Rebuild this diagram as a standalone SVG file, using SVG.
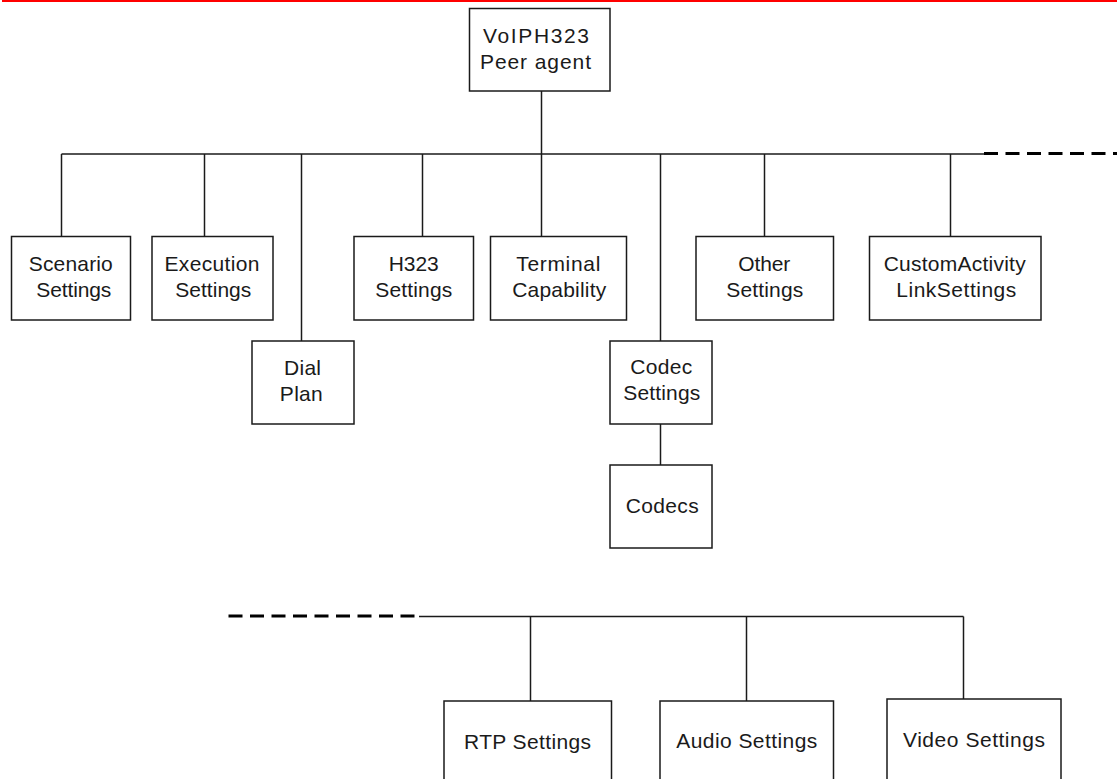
<svg xmlns="http://www.w3.org/2000/svg" width="1117" height="779" viewBox="0 0 1117 779">
<style>
.box{fill:#fff;stroke:#1a1a1a;stroke-width:1.5}
.ln{fill:none;stroke:#1a1a1a;stroke-width:1.5}
.dash{fill:none;stroke:#000;stroke-width:3;stroke-dasharray:14 7.5}
text{font-family:"Liberation Sans",Arial,sans-serif;font-size:21px;fill:#1a1a1a;text-anchor:middle}
</style>
<rect x="0" y="0" width="1117" height="779" fill="#fff"/>
<rect x="2" y="0" width="1115" height="2" fill="#ff0000"/>
<g id="connectors">
<line class="ln" x1="541.5" y1="91" x2="541.5" y2="236.5"/>
<line class="ln" x1="61.5" y1="154" x2="984" y2="154"/>
<line class="dash" x1="984" y1="153.5" x2="1117" y2="153.5"/>
<line class="ln" x1="61.5" y1="154" x2="61.5" y2="236.5"/>
<line class="ln" x1="204.5" y1="154" x2="204.5" y2="236.5"/>
<line class="ln" x1="301.5" y1="154" x2="301.5" y2="341"/>
<line class="ln" x1="422.5" y1="154" x2="422.5" y2="236.5"/>
<line class="ln" x1="660.5" y1="154" x2="660.5" y2="341"/>
<line class="ln" x1="764.5" y1="154" x2="764.5" y2="236.5"/>
<line class="ln" x1="950.5" y1="154" x2="950.5" y2="236.5"/>
<line class="ln" x1="660.5" y1="424" x2="660.5" y2="465"/>
<line class="dash" x1="228.5" y1="616" x2="419" y2="616"/>
<line class="ln" x1="419" y1="616.5" x2="963.5" y2="616.5"/>
<line class="ln" x1="530.5" y1="616.5" x2="530.5" y2="701"/>
<line class="ln" x1="746.5" y1="616.5" x2="746.5" y2="701"/>
<line class="ln" x1="963.5" y1="616.5" x2="963.5" y2="699"/>
</g>
<g id="root">
<rect class="box" x="469.5" y="8.5" width="140.5" height="82.5"/>
<text x="536" y="42.7" textLength="106">VoIPH323</text>
<text x="535.5" y="69.3" textLength="111">Peer agent</text>
</g>
<g id="scenario">
<rect class="box" x="11.5" y="236.5" width="119" height="83.5"/>
<text x="70.8" y="270.5" textLength="84">Scenario</text>
<text x="73.8" y="296.5" textLength="75">Settings</text>
</g>
<g id="execution">
<rect class="box" x="152" y="236.5" width="121" height="83.5"/>
<text x="212" y="270.5" textLength="95">Execution</text>
<text x="213.3" y="296.5" textLength="76">Settings</text>
</g>
<g id="dialplan">
<rect class="box" x="252" y="341" width="102" height="83"/>
<text x="302.5" y="375" textLength="37">Dial</text>
<text x="301.3" y="400.5" textLength="43">Plan</text>
</g>
<g id="h323">
<rect class="box" x="354" y="236.5" width="119.5" height="83.5"/>
<text x="413.7" y="270.5" textLength="50">H323</text>
<text x="413.8" y="296.5" textLength="77">Settings</text>
</g>
<g id="terminal">
<rect class="box" x="490.5" y="236.5" width="136" height="83.5"/>
<text x="558.3" y="270.5" textLength="84">Terminal</text>
<text x="559.2" y="296.5" textLength="94">Capability</text>
</g>
<g id="codecsettings">
<rect class="box" x="610" y="341" width="102" height="83"/>
<text x="661.3" y="374" textLength="62">Codec</text>
<text x="661.8" y="400" textLength="77">Settings</text>
</g>
<g id="codecs">
<rect class="box" x="610" y="465" width="102" height="83"/>
<text x="662.2" y="513" textLength="73">Codecs</text>
</g>
<g id="other">
<rect class="box" x="696" y="236.5" width="137.5" height="83.5"/>
<text x="764.3" y="270.5" textLength="52">Other</text>
<text x="764.8" y="296.5" textLength="77">Settings</text>
</g>
<g id="customactivity">
<rect class="box" x="869.5" y="236.5" width="171.5" height="83.5"/>
<text x="954.7" y="270.5" textLength="142">CustomActivity</text>
<text x="956.3" y="296.5" textLength="120">LinkSettings</text>
</g>
<g id="rtp">
<rect class="box" x="444" y="701" width="167.5" height="90"/>
<text x="527.5" y="749.3" textLength="127">RTP Settings</text>
</g>
<g id="audio">
<rect class="box" x="660" y="701" width="173.5" height="90"/>
<text x="746.8" y="748.3" textLength="141">Audio Settings</text>
</g>
<g id="video">
<rect class="box" x="887" y="699" width="174" height="92"/>
<text x="974" y="746.7" textLength="142">Video Settings</text>
</g>
</svg>
